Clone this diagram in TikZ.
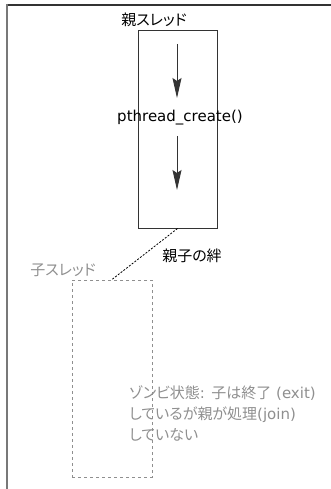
\documentclass[tikz,border=0pt]{standalone}
\usepackage{fontspec}
\setmainfont{DejaVu Sans}
\newfontfamily\jpfont{Noto Sans CJK JP}[RawFeature=+palt]
\usetikzlibrary{arrows.meta}
\newlength{\du}
\setlength{\du}{1pt}
\definecolor{dialinecolor}{rgb}{0.200000, 0.200000, 0.200000}
\definecolor{framecolor}{rgb}{0.470000, 0.470000, 0.470000}
\definecolor{zombiecolor}{rgb}{0.560000, 0.560000, 0.560000}
\tikzset{
  threadbox/.style={draw=dialinecolor, line width=1\du, minimum width=79\du, minimum height=197\du, inner sep=0pt},
  zombiebox/.style={draw=zombiecolor, line width=1\du, dash pattern=on 3\du off 3\du, minimum width=80\du, minimum height=197\du, inner sep=0pt},
  flow/.style={draw=dialinecolor, line width=1\du, -{Stealth[length=20pt, width=9pt, inset=3pt]}},
  tie/.style={draw=black, line width=0.8\du, dash pattern=on 2\du off 1.5\du},
  label/.style={inner sep=0pt, font=\fontsize{15}{21}\selectfont},
}
\begin{document}
\begin{tikzpicture}[x=1\du, y=-1\du]
\useasboundingbox (0,0) rectangle (331,489);
% frame
\draw[line width=2\du, dialinecolor] (331,5) -- (7,5);
\draw[line width=2\du, framecolor] (7,4) -- (7,489);
% parent thread
\node[threadbox] (parent) at (177.5,129.5) {};
\node[label] (parentlbl) at (154,20) {\jpfont 親スレッド};
\coordinate (a1s) at (177,44);
\coordinate (a1e) at (177,98);
\coordinate (a2s) at (177,136);
\coordinate (a2e) at (177,190);
\node[label] (create) at (180,118) {pthread\_create()};
\draw[flow] (a1s) -- (a1e);
\draw[flow] (a2s) -- (a2e);
% child thread
\node[zombiebox] (child) at (112,378.5) {};
\node[label, text=zombiecolor] (childlbl) at (63,270) {\jpfont 子スレッド};
\draw[tie] (parent.south) -- (child.north);
\node[label] (bond) at (192,256) {\jpfont 親子の絆};
% zombie note
\node[label, text=zombiecolor, anchor=west, align=left] (zombie) at (129,413)
  {{\jpfont ゾンビ状態}: {\jpfont 子は終了} (exit)\\
   {\jpfont しているが親が処理}(join)\\
   {\jpfont していない}};
\end{tikzpicture}
\end{document}
